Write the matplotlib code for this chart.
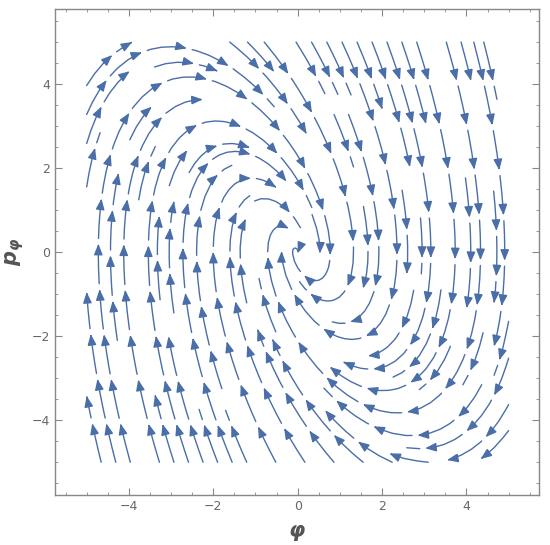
import numpy as np
import matplotlib
matplotlib.use('Agg')
import matplotlib.pyplot as plt
from matplotlib.ticker import MultipleLocator
from matplotlib.patches import FancyArrowPatch
from matplotlib.path import Path

# damped oscillator: phi' = p, p' = -k*phi - gamma*p
stiffness = 2.6
damping = 1.6
phi_range = [-5, 5]
p_range = [-5, 5]
tick_values = [-4, -2, 0, 2, 4]
tick_labels = ['\u22124', '\u22122', '0', '2', '4']

phi = np.linspace(phi_range[0], phi_range[1], 200)
p = np.linspace(p_range[0], p_range[1], 200)
PHI, P = np.meshgrid(phi, p)
U = P
V = -stiffness * PHI - damping * P

fig = plt.figure(figsize=(5.5, 5.45), dpi=100)
ax = fig.add_axes([0.1, 0.0917, 0.88, 0.892])
ax.set_xlim(-5.75, 5.72)
ax.set_ylim(-5.78, 5.79)

line_color = '#4a6ea8'
before = list(ax.patches)
sp = ax.streamplot(PHI, P, U, V, density=1.0, color=line_color,
                   linewidth=1.0, arrowstyle='-', broken_streamlines=True)
segs = sp.lines.get_segments()
sp.lines.remove()
for patch in list(ax.patches):
    if patch not in before:
        patch.remove()

# split each streamline into dashes with an arrowhead at every dash end
dash_len = 0.95
gap_len = 0.13
for seg in segs:
    seg = np.asarray(seg)
    if len(seg) < 2:
        continue
    d = np.hypot(np.diff(seg[:, 0]), np.diff(seg[:, 1]))
    s = np.concatenate([[0], np.cumsum(d)])
    total = s[-1]
    if total < 0.3:
        continue
    start = 0.0
    while start < total - 0.2:
        end = min(start + dash_len, total)
        ss = np.linspace(start, end, 25)
        xs = np.interp(ss, s, seg[:, 0])
        ys = np.interp(ss, s, seg[:, 1])
        style = '-|>,head_length=0.65,head_width=0.26' if end - start > 0.4 else '-'
        patch = FancyArrowPatch(path=Path(np.column_stack([xs, ys])),
                                arrowstyle=style, mutation_scale=10,
                                color=line_color, linewidth=1.0)
        ax.add_patch(patch)
        start = end + gap_len

ax.set_xticks(tick_values)
ax.set_yticks(tick_values)
ax.set_xticklabels(tick_labels)
ax.set_yticklabels(tick_labels)
ax.xaxis.set_minor_locator(MultipleLocator(0.5))
ax.yaxis.set_minor_locator(MultipleLocator(0.5))
ax.tick_params(which='both', direction='in', top=True, right=True,
               colors='#888888', labelcolor='#666666', labelsize=9)
ax.tick_params(which='major', length=5, width=0.8)
ax.tick_params(which='minor', length=2.5, width=0.6)
for sp_ in ax.spines.values():
    sp_.set_color('#888888')
    sp_.set_linewidth(1.0)

ax.set_xlabel('\u03c6', color='#555555', fontsize=15, fontweight='bold',
              fontstyle='italic', labelpad=6)
ax.set_ylabel(r'$\mathbfit{p}_{\mathbfit{\varphi}}$', color='#555555',
              fontsize=15, labelpad=4)

fig.savefig('out.png', dpi=100)
